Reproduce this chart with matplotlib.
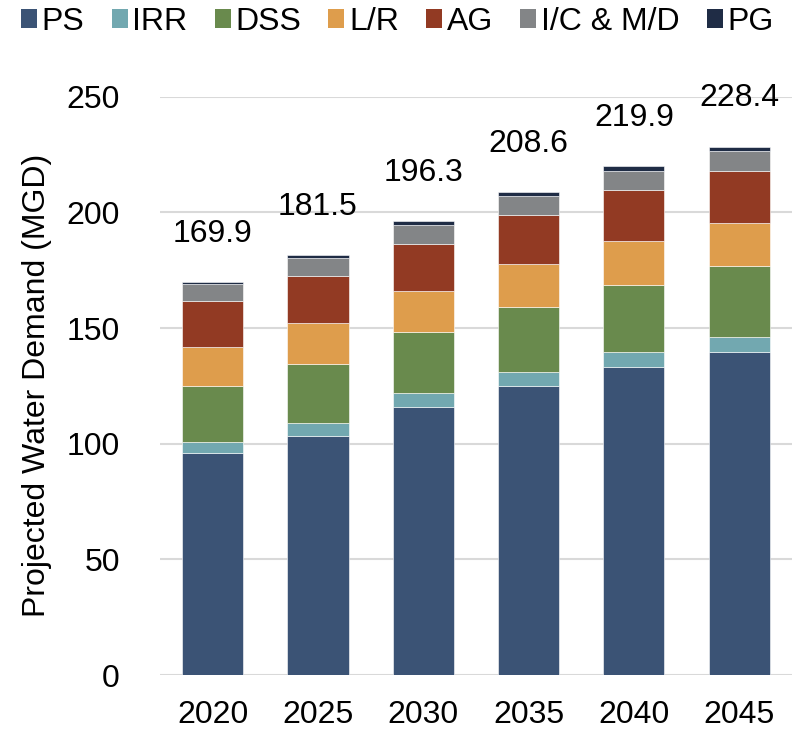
import matplotlib.pyplot as plt
import numpy as np
from matplotlib.patches import Patch

plt.rcParams["font.family"] = ["Liberation Sans", "DejaVu Sans"]

years = ["2020", "2025", "2030", "2035", "2040", "2045"]
categories = ["PS", "IRR", "DSS", "L/R", "AG", "I/C & M/D", "PG"]

ps = [95.9, 103.5, 115.8, 124.9, 133.1, 139.8]
irr = [5.0, 5.4, 5.9, 6.3, 6.5, 6.5]
dss = [24.0, 25.6, 26.5, 27.7, 29.2, 30.3]
lr = [16.7, 17.6, 17.8, 18.6, 19.0, 19.0]
ag = [19.9, 20.2, 20.4, 21.5, 22.0, 22.3]
ic_md = [7.6, 7.9, 8.2, 8.2, 8.1, 8.6]
pg = [0.8, 1.3, 1.7, 1.4, 2.0, 1.9]
totals = [169.9, 181.5, 196.3, 208.6, 219.9, 228.4]

colors = ["#3B5375", "#72A8B0", "#698A4D", "#DE9D4C", "#923A23", "#838587", "#1F2C45"]

series = [ps, irr, dss, lr, ag, ic_md, pg]

fig = plt.figure(figsize=(7.95, 7.31), dpi=100)
ax = fig.add_axes([0.2013, 0.0766, 0.7947, 0.7911])

x = np.arange(len(years))
bottom = np.zeros(len(years))
for vals, col in zip(series, colors):
    ax.bar(x, vals, width=0.58, bottom=bottom, color=col,
           edgecolor="white", linewidth=0.4, zorder=3)
    bottom += np.array(vals)

for xi, top, tot in zip(x, bottom, totals):
    ax.annotate(f"{tot:.1f}", (xi, top), xytext=(0, 24), textcoords="offset points",
                ha="center", va="bottom", fontsize=23, annotation_clip=False)

ax.set_xlim(-0.5, len(years) - 0.5)
ax.set_ylim(0, 250)
ax.set_yticks(range(0, 251, 50))
ax.set_xticks(x)
ax.set_xticklabels(years)
ax.tick_params(axis="both", length=0, labelsize=23)
ax.tick_params(axis="y", pad=29)
ax.tick_params(axis="x", pad=18)
ax.yaxis.grid(True, color="#D9D9D9", linewidth=1.5, zorder=0)
ax.set_axisbelow(True)
for s in ax.spines.values():
    s.set_visible(False)
ax.set_ylabel("Projected Water Demand (MGD)", fontsize=23, labelpad=10)

handles = [Patch(facecolor=c, edgecolor="none") for c in colors]
fig.legend(handles, categories, loc="upper center", bbox_to_anchor=(0.5, 1.03),
           ncol=7, frameon=False, fontsize=23, handlelength=0.5, handleheight=0.5,
           handletextpad=0.15, columnspacing=0.85)

fig.savefig("out.png", dpi=100)
